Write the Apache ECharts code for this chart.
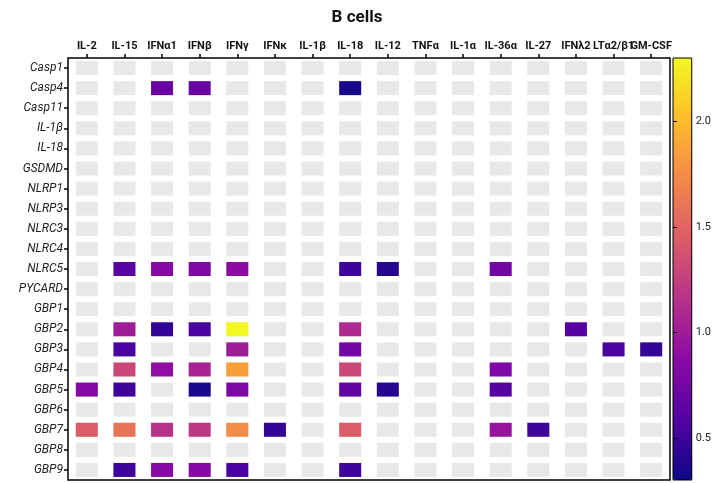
<!DOCTYPE html>
<html>
<head>
<meta charset="utf-8">
<script src="https://cdn.jsdelivr.net/npm/echarts@6/dist/echarts.min.js"></script>
<style>html,body{margin:0;padding:0;background:#fff}#main{width:714px;height:483px}</style>
</head>
<body>
<div id="main"></div>
<script>
const cytokines = ['IL-2','IL-15','IFNα1','IFNβ','IFNγ','IFNκ','IL-1β','IL-18','IL-12','TNFα','IL-1α','IL-36α','IL-27','IFNλ2','LTα2/β1','GM-CSF'];
const genes = ['Casp1','Casp4','Casp11','IL-1β','IL-18','GSDMD','NLRP1','NLRP3','NLRC3','NLRC4','NLRC5','PYCARD','GBP1','GBP2','GBP3','GBP4','GBP5','GBP6','GBP7','GBP8','GBP9'];
// [cytokine, gene, value]
const values = [
  ['IFNα1','Casp4',0.7],['IFNβ','Casp4',0.7],['IL-18','Casp4',0.35],
  ['IL-15','NLRC5',0.62],['IFNα1','NLRC5',0.85],['IFNβ','NLRC5',0.8],['IFNγ','NLRC5',0.88],['IL-18','NLRC5',0.5],['IL-12','NLRC5',0.4],['IL-36α','NLRC5',0.75],
  ['IL-15','GBP2',1.0],['IFNα1','GBP2',0.45],['IFNβ','GBP2',0.55],['IFNγ','GBP2',2.3],['IL-18','GBP2',1.1],['IFNλ2','GBP2',0.6],
  ['IL-15','GBP3',0.55],['IFNγ','GBP3',1.0],['IL-18','GBP3',0.75],['LTα2/β1','GBP3',0.55],['GM-CSF','GBP3',0.45],
  ['IL-15','GBP4',1.3],['IFNα1','GBP4',0.9],['IFNβ','GBP4',1.05],['IFNγ','GBP4',1.85],['IL-18','GBP4',1.3],['IL-36α','GBP4',0.8],
  ['IL-2','GBP5',0.85],['IL-15','GBP5',0.5],['IFNβ','GBP5',0.35],['IFNγ','GBP5',0.8],['IL-18','GBP5',0.65],['IL-12','GBP5',0.4],['IL-36α','GBP5',0.6],
  ['IL-2','GBP7',1.45],['IL-15','GBP7',1.6],['IFNα1','GBP7',1.15],['IFNβ','GBP7',1.2],['IFNγ','GBP7',1.75],['IFNκ','GBP7',0.45],['IL-18','GBP7',1.45],['IL-36α','GBP7',0.95],['IL-27','GBP7',0.5],
  ['IL-15','GBP9',0.5],['IFNα1','GBP9',0.85],['IFNβ','GBP9',0.85],['IFNγ','GBP9',0.55],['IL-18','GBP9',0.5]
];
const colorTicks = [0.5, 1.0, 1.5, 2.0];
const cMin = 0.3, cMax = 2.3;

const plasma = ['#0d0887','#5302a3','#8b0aa5','#b83289','#db5c68','#f48849','#febd2a','#f0f921'];
const bg = [];
genes.forEach(g => cytokines.forEach(c => bg.push([c, g])));

const chart = echarts.init(document.getElementById('main'));
chart.setOption({
  animation: false,
  title: {text: 'B cells', left: 'center', top: 4, textStyle: {fontFamily: 'Roboto', fontSize: 17, fontWeight: 'bold', color: '#111'}},
  grid: [
    {left: 68, right: 44, top: 58, bottom: 3, show: true, borderColor: '#000', borderWidth: 1.5, containLabel: false},
    {left: 673, width: 19, top: 58, bottom: 3, show: true, borderColor: '#000', borderWidth: 1, z: 5}
  ],
  xAxis: [
    {type: 'category', data: cytokines, position: 'top', gridIndex: 0,
     axisLine: {show: false}, axisTick: {show: true, alignWithLabel: true, length: 4, lineStyle: {color: '#000', width: 1.5}},
     axisLabel: {fontFamily: 'Roboto', fontSize: 11, fontWeight: 'bold', color: '#111', margin: 6, interval: 0}},
    {type: 'value', gridIndex: 1, show: false}
  ],
  yAxis: [
    {type: 'category', data: genes, inverse: true, gridIndex: 0,
     axisLine: {show: false}, axisTick: {show: true, alignWithLabel: true, length: 4, lineStyle: {color: '#000', width: 1.5}},
     axisLabel: {fontFamily: 'Roboto', fontSize: 12, fontStyle: 'italic', color: '#222', margin: 5, interval: 0}},
    {type: 'value', gridIndex: 1, min: cMin, max: cMax, position: 'right', z: 10,
     splitLine: {show: false}, axisLine: {show: false},
     axisTick: {show: true, length: 4, customValues: colorTicks, lineStyle: {color: '#000'}},
     axisLabel: {fontFamily: 'Roboto', fontSize: 11, color: '#222', margin: 4, customValues: colorTicks, formatter: v => v.toFixed(1)}}
  ],
  visualMap: {type: 'continuous', min: cMin, max: cMax, seriesIndex: 1, show: true, calculable: false,
    left: 673, top: 58, padding: 0, itemWidth: 19, itemHeight: 422, text: null, showLabel: false,
    inRange: {color: plasma}},
  series: [
    {type: 'scatter', xAxisIndex: 0, yAxisIndex: 0, data: bg, symbol: 'rect', symbolSize: [22, 14],
     itemStyle: {color: '#e8e8e8', opacity: 1}, silent: true, z: 1},
    {type: 'scatter', xAxisIndex: 0, yAxisIndex: 0, data: values, symbol: 'rect', symbolSize: [22, 14],
     itemStyle: {opacity: 1}, z: 2}
  ]
});
</script>
</body>
</html>
